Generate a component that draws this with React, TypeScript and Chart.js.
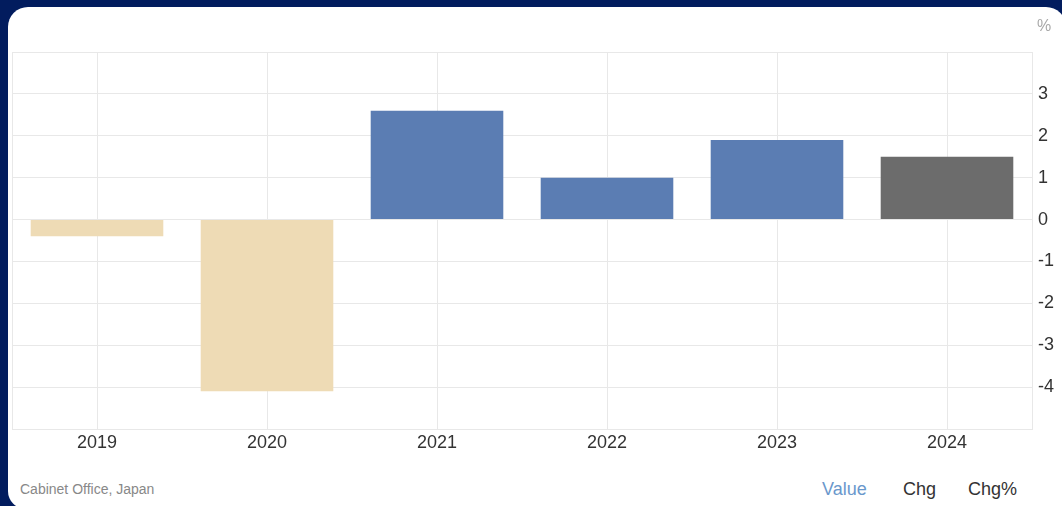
import React, { useEffect, useRef } from "react";
import { Chart, registerables } from "chart.js";

Chart.register(...registerables);

const categories = ["2019", "2020", "2021", "2022", "2023", "2024"];
const values = [-0.4, -4.1, 2.6, 1.0, 1.9, 1.5];
const barColors = ["#eedbb5", "#eedbb5", "#5b7db3", "#5b7db3", "#5b7db3", "#6c6c6c"];
const yTicksShown = [3, 2, 1, 0, -1, -2, -3, -4];
const yMin = -5;
const yMax = 4;
const sourceText = "Cabinet Office, Japan";
const unitText = "%";
const tabs = ["Value", "Chg", "Chg%"];

const FONT = "'Liberation Sans', Arial, Helvetica, sans-serif";
const GRID = "#e8e8e8";

const frameLeftPlugin = {
  id: "frameLeft",
  beforeDatasetsDraw(chart: any) {
    const { ctx, chartArea } = chart;
    ctx.save();
    ctx.strokeStyle = GRID;
    ctx.lineWidth = 1;
    ctx.beginPath();
    ctx.moveTo(chartArea.left + 0.5, chartArea.top);
    ctx.lineTo(chartArea.left + 0.5, chartArea.bottom);
    ctx.stroke();
    ctx.restore();
  },
};

export default function App() {
  const canvasRef = useRef<HTMLCanvasElement | null>(null);

  useEffect(() => {
    document.body.style.margin = "0";
    const canvas = canvasRef.current;
    if (!canvas) return;
    const chart = new Chart(canvas, {
      type: "bar",
      data: {
        labels: categories,
        datasets: [
          {
            data: values,
            backgroundColor: barColors,
            borderWidth: 0,
            categoryPercentage: 1,
            barPercentage: 0.78,
          },
        ],
      },
      options: {
        responsive: false,
        animation: false,
        devicePixelRatio: 1,
        layout: { padding: { left: 4, top: 45, right: 0, bottom: 0 } },
        plugins: {
          legend: { display: false },
          tooltip: { enabled: false },
        },
        scales: {
          x: {
            grid: { color: GRID, offset: false, drawTicks: false },
            border: { color: GRID },
            ticks: {
              color: "#333333",
              font: { family: FONT, size: 18 },
              padding: 3,
              maxRotation: 0,
            },
            afterFit: (axis: any) => {
              axis.height = 38;
            },
          },
          y: {
            position: "right",
            min: yMin,
            max: yMax,
            grid: { color: GRID, drawTicks: false },
            border: { color: GRID },
            ticks: {
              stepSize: 1,
              color: "#333333",
              font: { family: FONT, size: 18 },
              padding: 6,
              callback: (v: any) => (yTicksShown.includes(Number(v)) ? String(v) : ""),
            },
            afterFit: (axis: any) => {
              axis.width = 30;
            },
          },
        },
      },
      plugins: [frameLeftPlugin],
    });
    return () => chart.destroy();
  }, []);

  return (
    <div
      style={{
        position: "fixed",
        left: 0,
        top: 0,
        width: 1062,
        height: 506,
        background: "#021c5e",
        overflow: "hidden",
        fontFamily: FONT,
      }}
    >
      <div
        style={{
          position: "absolute",
          left: 8,
          top: 7,
          right: -4,
          height: 502,
          background: "#ffffff",
          borderRadius: "20px 20px 0 18px",
          overflow: "hidden",
        }}
      >
        <canvas
          ref={canvasRef}
          width={1054}
          height={460}
          style={{ position: "absolute", left: 0, top: 0, width: 1054, height: 460 }}
        />
        <div
          style={{
            position: "absolute",
            left: 1029,
            top: 10,
            fontSize: 16,
            lineHeight: "18px",
            color: "#a8a8a8",
          }}
        >
          {unitText}
        </div>
        <div
          style={{
            position: "absolute",
            left: 12,
            top: 473,
            fontSize: 14,
            lineHeight: "18px",
            color: "#888888",
          }}
        >
          {sourceText}
        </div>
        {tabs.map((t, i) => (
          <div
            key={t}
            style={{
              position: "absolute",
              left: [814, 895, 960][i],
              top: 471,
              fontSize: 18,
              lineHeight: "22px",
              color: i === 0 ? "#6a98cc" : "#333333",
            }}
          >
            {t}
          </div>
        ))}
      </div>
    </div>
  );
}
